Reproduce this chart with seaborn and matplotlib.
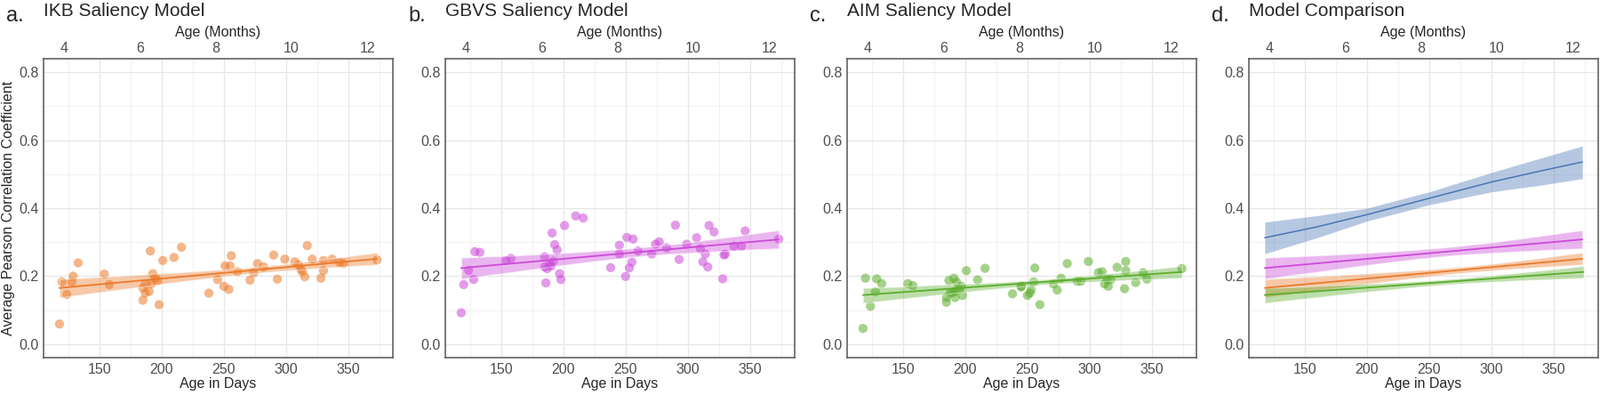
import matplotlib
matplotlib.use("Agg")
import matplotlib.pyplot as plt
import numpy as np
import pandas as pd
import seaborn as sns

# per-infant average correlation
ikb_days = [118, 120, 124, 128, 129, 133, 154, 158, 185, 185, 187, 187, 190, 191, 192, 193,
            195, 197, 198, 201, 210, 216, 238, 245, 250, 251, 254, 255, 256, 261, 271, 274,
            277, 282, 290, 293, 299, 307, 310, 312, 313, 315, 317, 321, 328, 330, 330, 337,
            343, 346, 373]
ikb_r = [0.059, 0.183, 0.146, 0.183, 0.200, 0.239, 0.206, 0.175, 0.165, 0.129, 0.150, 0.177,
         0.155, 0.274, 0.178, 0.207, 0.194, 0.187, 0.116, 0.246, 0.255, 0.285, 0.150, 0.190,
         0.170, 0.230, 0.161, 0.230, 0.260, 0.213, 0.188, 0.210, 0.237, 0.227, 0.262, 0.191,
         0.250, 0.242, 0.233, 0.220, 0.213, 0.198, 0.290, 0.250, 0.194, 0.246, 0.216, 0.250,
         0.240, 0.237, 0.248]

gbvs_days = [118, 120, 124, 128, 129, 133, 154, 158, 185, 185, 186, 187, 189, 190, 191, 192,
             193, 195, 197, 198, 201, 210, 216, 238, 245, 245, 250, 251, 253, 255, 256, 260,
             271, 274, 277, 283, 290, 293, 299, 307, 310, 312, 314, 316, 317, 321, 328, 329,
             330, 337, 343, 346, 373]
gbvs_r = [0.092, 0.175, 0.217, 0.190, 0.272, 0.270, 0.246, 0.252, 0.257, 0.227, 0.180, 0.222,
          0.235, 0.229, 0.327, 0.244, 0.293, 0.277, 0.207, 0.190, 0.349, 0.377, 0.371, 0.225,
          0.291, 0.265, 0.199, 0.314, 0.224, 0.241, 0.309, 0.274, 0.265, 0.294, 0.301, 0.283,
          0.350, 0.249, 0.294, 0.313, 0.281, 0.242, 0.265, 0.227, 0.349, 0.330, 0.192, 0.262,
          0.265, 0.288, 0.288, 0.333, 0.309]

aim_days = [118, 120, 124, 128, 129, 133, 154, 158, 185, 185, 187, 188, 190, 191, 192, 192,
            193, 195, 197, 198, 201, 210, 216, 238, 245, 245, 250, 252, 253, 255, 256, 260,
            271, 274, 277, 282, 290, 293, 299, 307, 310, 312, 314, 315, 317, 322, 328, 329,
            329, 337, 343, 346, 374]
aim_r = [0.046, 0.194, 0.111, 0.154, 0.192, 0.178, 0.178, 0.172, 0.123, 0.137, 0.187, 0.150,
         0.152, 0.194, 0.155, 0.137, 0.183, 0.163, 0.170, 0.143, 0.216, 0.189, 0.223, 0.148,
         0.168, 0.170, 0.143, 0.150, 0.159, 0.183, 0.224, 0.116, 0.177, 0.159, 0.194, 0.237,
         0.185, 0.185, 0.243, 0.210, 0.213, 0.177, 0.190, 0.170, 0.190, 0.226, 0.163, 0.243,
         0.216, 0.181, 0.210, 0.191, 0.222]

# fourth model, only shown as its fitted line in panel d
blue_days = [118, 160, 200, 250, 300, 340, 373]
blue_fit = [0.313, 0.345, 0.381, 0.429, 0.477, 0.510, 0.536]
blue_lo = [0.266, 0.313, 0.362, 0.410, 0.448, 0.468, 0.487]
blue_hi = [0.359, 0.378, 0.400, 0.448, 0.505, 0.548, 0.583]

ORANGE = "#EC7A2A"
MAGENTA = "#CC4AD8"
GREEN = "#5BAD2C"
BLUE = "#4A76B4"

models = {
    "IKB": (ikb_days, ikb_r, ORANGE),
    "GBVS": (gbvs_days, gbvs_r, MAGENTA),
    "AIM": (aim_days, aim_r, GREEN),
}

sns.set_theme(style="white")
plt.rcParams["font.family"] = ["Liberation Sans", "DejaVu Sans"]

fig = plt.figure(figsize=(18, 4.44), dpi=100)
lefts = [49, 501, 953, 1405]
letters = ["a.", "b.", "c.", "d."]
titles = ["IKB Saliency Model", "GBVS Saliency Model", "AIM Saliency Model", "Model Comparison"]

axes = []
for left in lefts:
    ax = fig.add_axes([left / 1800, 1 - 402 / 444, 393 / 1800, 336 / 444])
    axes.append(ax)


def fade_band(ax, alpha):
    for coll in ax.collections:
        if isinstance(coll, matplotlib.collections.PolyCollection):
            coll.set_alpha(alpha)


for ax, name in zip(axes[:3], ["IKB", "GBVS", "AIM"]):
    days, r, color = models[name]
    df = pd.DataFrame({"days": days, "r": r})
    sns.regplot(data=df, x="days", y="r", ax=ax, color=color, ci=95, n_boot=2000, seed=3,
                scatter_kws=dict(s=55, alpha=0.55, edgecolor="none"),
                line_kws=dict(lw=1.3))
    fade_band(ax, 0.4)

axd = axes[3]
for name in ["IKB", "GBVS", "AIM"]:
    days, r, color = models[name]
    df = pd.DataFrame({"days": days, "r": r})
    sns.regplot(data=df, x="days", y="r", ax=axd, color=color, ci=95, n_boot=2000, seed=3,
                scatter=False, line_kws=dict(lw=1.3))
fade_band(axd, 0.4)
blue_df = pd.DataFrame({"days": blue_days, "r": blue_fit})
axd.fill_between(blue_days, blue_lo, blue_hi, color=BLUE, alpha=0.4, lw=0)
sns.lineplot(data=blue_df, x="days", y="r", ax=axd, color=BLUE, lw=1.1)

label_color = "#4D4D4D"
for i, ax in enumerate(axes):
    ax.set_xlim(105.25, 385.75)
    ax.set_ylim(-0.04, 0.84)
    ax.set_xticks([150, 200, 250, 300, 350])
    ax.set_xticks([125, 175, 225, 275, 325, 375], minor=True)
    ax.set_yticks([0.0, 0.2, 0.4, 0.6, 0.8])
    ax.set_yticks([0.1, 0.3, 0.5, 0.7], minor=True)
    ax.set_yticklabels(["0.0", "0.2", "0.4", "0.6", "0.8"])
    ax.grid(which="major", color="#E6E6E6", lw=0.9)
    ax.grid(which="minor", color="#F0F0F0", lw=0.6)
    ax.set_axisbelow(True)
    ax.tick_params(which="both", length=0, labelsize=11.5, labelcolor=label_color, pad=4)
    for sp in ax.spines.values():
        sp.set_color("#555555")
        sp.set_linewidth(1.1)
    ax.set_xlabel("Age in Days", fontsize=11.5, labelpad=1)
    ax.set_ylabel("Average Pearson Correlation Coefficient" if i == 0 else "",
                  fontsize=11.5, labelpad=3)

    sec = ax.secondary_xaxis("top", functions=(lambda d: d / 30.44, lambda m: m * 30.44))
    sec.set_xticks([4, 6, 8, 10, 12])
    sec.tick_params(length=0, labelsize=11.5, labelcolor=label_color, pad=3)
    sec.spines["top"].set_visible(False)
    sec.set_xlabel("Age (Months)", fontsize=11.5, labelpad=4)

    x0 = lefts[i] / 1800
    fig.text(x0 - 42 / 1800, 1 - 24 / 444, letters[i], fontsize=17, ha="left", va="baseline")
    fig.text(x0, 1 - 18 / 444, titles[i], fontsize=15, ha="left", va="baseline")

fig.savefig("out.png", dpi=100)
